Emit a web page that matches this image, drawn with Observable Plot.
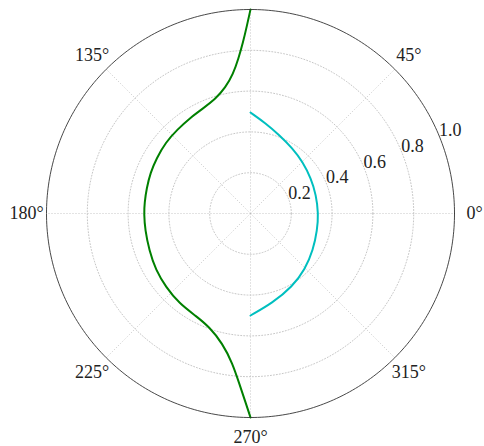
<!DOCTYPE html>
<html><head><meta charset="utf-8">
<script src="https://cdn.jsdelivr.net/npm/d3@7"></script>
<script src="https://cdn.jsdelivr.net/npm/@observablehq/plot@0.6"></script>
<style>body{margin:0;background:#fff}</style>
</head><body><div id="chart"></div>
<script>
// Green series: angle (degrees), radius
const greenTheta = [90, 91.07, 92.51, 94.43, 97.18, 101.2, 107.0, 114.0, 122.0, 131.0, 140.1, 149.7, 157.7, 166.5, 174.1, 180, 188.9, 199.9, 210.9, 220.9, 231.5, 242.5, 249.9, 257.8, 263.15, 266.2, 268.6, 270];
const greenR     = [1.0, 0.922, 0.839, 0.762, 0.687, 0.630, 0.587, 0.566, 0.555, 0.546, 0.543, 0.534, 0.530, 0.524, 0.522, 0.522, 0.523, 0.528, 0.541, 0.549, 0.563, 0.570, 0.591, 0.651, 0.740, 0.835, 0.931, 1.0];
// Cyan series
const cyanTheta = [90, 80.4, 70, 57.1, 44.8, 30.1, 15.7, 0, -14, -30, -45.7, -60.2, -76.3, -90];
const cyanR     = [0.495, 0.448, 0.41, 0.38, 0.36, 0.343, 0.334, 0.333, 0.337, 0.355, 0.383, 0.413, 0.452, 0.5];

const ringValues = [0.2, 0.4, 0.6, 0.8];
const outerRing = 1.0;
const ringLabelValues = [0.2, 0.4, 0.6, 0.8, 1.0];
const ringLabels = ["0.2", "0.4", "0.6", "0.8", "1.0"];
const ringLabelAngle = 22.5;
const spokeAngles = [0, 45, 90, 135, 180, 225, 270, 315];
const angleLabelAngles = [0, 45, 135, 180, 225, 270, 315];
const angleLabels = ["0°", "45°", "135°", "180°", "225°", "270°", "315°"];

const rad = Math.PI / 180;
const px = d => d.r * Math.cos(d.theta * rad);
const py = d => d.r * Math.sin(d.theta * rad);

const green = greenTheta.map((t, i) => ({theta: t, r: greenR[i]}));
const cyan = cyanTheta.map((t, i) => ({theta: t, r: cyanR[i]}));
const circle = (r) => d3.range(0, 361, 1).map(a => ({theta: a, r, ring: r}));
const rings = ringValues.flatMap(circle);
const outer = circle(outerRing);
const spokes = spokeAngles.map(a => ({theta: a, r: outerRing}));
const angLab = angleLabelAngles.map((a, i) => ({theta: a, r: 1.098, text: angleLabels[i]}));
const radLab = ringLabelValues.map((v, i) => ({theta: ringLabelAngle, r: v, text: ringLabels[i]}));

const chart = Plot.plot({
  width: 484, height: 446,
  marginLeft: 46, marginRight: 30, marginTop: 9, marginBottom: 29,
  x: {domain: [-1, 1], axis: null},
  y: {domain: [-1, 1], axis: null},
  style: {fontFamily: "'Liberation Serif', serif", background: "white"},
  marks: [
    Plot.line(rings, {x: px, y: py, z: "ring", stroke: "#b8b8b8", strokeWidth: 0.8, strokeDasharray: "1,2"}),
    Plot.link(spokes, {x1: 0, y1: 0, x2: px, y2: py, stroke: "#b8b8b8", strokeWidth: 0.8, strokeDasharray: "1,2"}),
    Plot.line(green, {x: px, y: py, stroke: "#008000", strokeWidth: 2, curve: "basis"}),
    Plot.line(cyan, {x: px, y: py, stroke: "#00bfbf", strokeWidth: 2, curve: "basis"}),
    Plot.line(outer, {x: px, y: py, stroke: "#333", strokeWidth: 0.9}),
    Plot.text(angLab, {x: px, y: py, text: "text", fontSize: 18, fill: "#222"}),
    Plot.text(radLab, {x: px, y: py, text: "text", fontSize: 18, fill: "#222", textAnchor: "start", lineAnchor: "bottom", dy: 1})
  ]
});
document.getElementById("chart").appendChild(chart);
</script>
</body></html>
